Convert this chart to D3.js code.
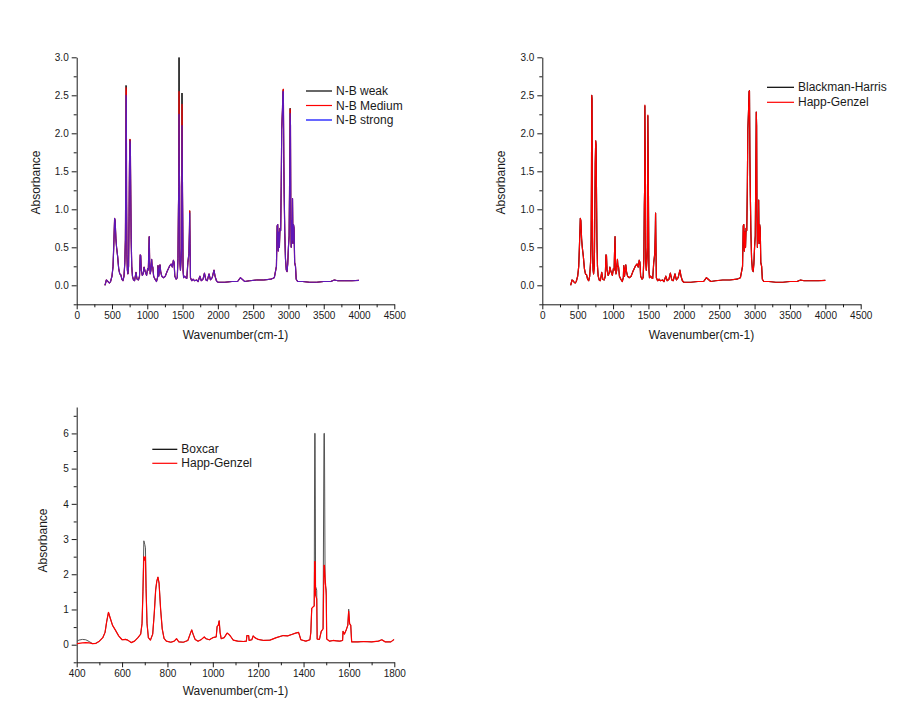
<!DOCTYPE html>
<html><head><meta charset="utf-8">
<script src="https://cdn.jsdelivr.net/npm/d3@7"></script>
<style>
body{margin:0;background:#fff}
svg{display:block}
text{font-family:"Liberation Sans",Arial,sans-serif;fill:#1a1a1a}
</style>
</head><body>
<svg id="c" width="910" height="719"></svg>
<script>
// ---------- DATA ----------
const wn1 = [400,410,420,435,450,465,480,500,515,528,
537,545,555,565,580,595,610,625,640,655,
670,682,690,695,699,703,707,712,718,725,
735,742,748,755,760,766,772,780,790,805,
820,840,855,875,890,900,907,915,930,945,
955,965,975,990,1005,1015,1020,1028,1034,1042,
1052,1062,1068,1078,1090,1110,1130,1145,1152,1162,
1172,1180,1190,1205,1230,1255,1280,1300,1320,1340,
1355,1370,1380,1390,1410,1425,1435,1442,1447,1450,
1453,1458,1462,1470,1480,1487,1492,1497,1502,1507,
1515,1530,1545,1560,1575,1590,1597,1601,1606,1612,
1630,1650,1670,1700,1720,1745,1765,1790,1810,1830,
1850,1875,1895,1920,1945,1960,1980,2000,2100,2200,
2280,2320,2345,2380,2450,2550,2650,2750,2800,2830,
2840,2848,2856,2866,2872,2880,2890,2898,2905,2915,
2922,2928,2934,2940,2948,2958,2970,2980,2990,3000,
3010,3018,3024,3029,3034,3040,3047,3053,3058,3064,
3072,3080,3088,3100,3110,3130,3200,3300,3400,3500,
3600,3650,3700,3800,3900,4000];

const nbStrong = [0.00,0.03,0.07,0.06,0.04,0.03,0.05,0.12,0.25,0.60,
0.88,0.85,0.62,0.50,0.38,0.22,0.15,0.14,0.08,0.06,
0.12,0.30,0.60,1.40,2.50,2.45,1.10,0.40,0.20,0.15,
0.25,0.90,1.60,1.90,1.85,1.20,0.60,0.25,0.12,0.07,
0.06,0.17,0.08,0.07,0.12,0.40,0.39,0.20,0.13,0.16,
0.24,0.20,0.17,0.13,0.22,0.20,0.40,0.64,0.30,0.15,
0.20,0.34,0.26,0.24,0.12,0.08,0.05,0.10,0.26,0.12,
0.20,0.27,0.18,0.12,0.10,0.12,0.18,0.22,0.26,0.28,
0.24,0.33,0.30,0.12,0.08,0.10,0.35,1.05,1.30,2.25,
1.60,1.30,0.30,0.20,0.35,0.50,2.10,1.50,0.90,0.20,
0.10,0.12,0.10,0.09,0.30,0.42,0.70,0.95,0.55,0.10,
0.06,0.08,0.06,0.07,0.05,0.12,0.06,0.08,0.16,0.07,
0.06,0.15,0.07,0.10,0.20,0.12,0.06,0.04,0.04,0.05,
0.05,0.10,0.08,0.05,0.06,0.07,0.07,0.08,0.10,0.25,
0.78,0.80,0.45,0.70,0.50,0.75,0.72,1.30,2.05,2.30,
2.55,2.55,1.70,1.20,0.70,0.35,0.20,0.18,0.28,0.50,
0.65,1.50,2.26,2.10,0.90,0.50,0.85,0.60,1.14,0.55,
0.80,0.75,0.30,0.25,0.08,0.05,0.05,0.04,0.04,0.05,
0.05,0.07,0.06,0.06,0.06,0.065];

const nbMedium = [0.00,0.03,0.07,0.06,0.04,0.03,0.05,0.12,0.25,0.60,
0.88,0.85,0.62,0.50,0.38,0.22,0.15,0.14,0.08,0.06,
0.12,0.30,0.60,1.40,2.60,2.55,1.10,0.40,0.20,0.15,
0.25,0.90,1.60,1.92,1.85,1.20,0.60,0.25,0.12,0.07,
0.06,0.17,0.08,0.07,0.12,0.40,0.39,0.20,0.13,0.16,
0.24,0.20,0.17,0.13,0.22,0.20,0.40,0.64,0.30,0.15,
0.20,0.34,0.26,0.24,0.12,0.08,0.05,0.10,0.26,0.12,
0.20,0.27,0.18,0.12,0.10,0.12,0.18,0.22,0.26,0.28,
0.24,0.33,0.30,0.12,0.08,0.10,0.35,1.05,1.30,2.55,
1.60,1.30,0.30,0.20,0.35,0.50,2.38,1.50,0.90,0.20,
0.10,0.12,0.10,0.09,0.30,0.42,0.70,0.98,0.55,0.10,
0.06,0.08,0.06,0.07,0.05,0.12,0.06,0.08,0.16,0.07,
0.06,0.15,0.07,0.10,0.20,0.12,0.06,0.04,0.04,0.05,
0.05,0.10,0.08,0.05,0.06,0.07,0.07,0.08,0.10,0.25,
0.78,0.80,0.45,0.70,0.50,0.75,0.72,1.30,2.05,2.30,
2.55,2.58,1.70,1.20,0.70,0.35,0.20,0.18,0.28,0.50,
0.65,1.50,2.32,2.10,0.90,0.50,0.85,0.60,1.14,0.55,
0.80,0.75,0.30,0.25,0.08,0.05,0.05,0.04,0.04,0.05,
0.05,0.07,0.06,0.06,0.06,0.065];

const nbWeak = [0.00,0.03,0.07,0.06,0.04,0.03,0.05,0.12,0.25,0.60,
0.88,0.85,0.62,0.50,0.38,0.22,0.15,0.14,0.08,0.06,
0.12,0.30,0.60,1.40,2.63,2.58,1.10,0.40,0.20,0.15,
0.25,0.90,1.60,1.92,1.85,1.20,0.60,0.25,0.12,0.07,
0.06,0.17,0.08,0.07,0.12,0.40,0.39,0.20,0.13,0.16,
0.24,0.20,0.17,0.13,0.22,0.20,0.40,0.64,0.30,0.15,
0.20,0.34,0.26,0.24,0.12,0.08,0.05,0.10,0.26,0.12,
0.20,0.27,0.18,0.12,0.10,0.12,0.18,0.22,0.26,0.28,
0.24,0.33,0.30,0.12,0.08,0.10,0.35,1.05,1.30,3.00,
1.60,1.30,0.30,0.20,0.35,0.50,2.53,1.50,0.90,0.20,
0.10,0.12,0.10,0.09,0.30,0.42,0.70,0.98,0.55,0.10,
0.06,0.08,0.06,0.07,0.05,0.12,0.06,0.08,0.16,0.07,
0.06,0.15,0.07,0.10,0.20,0.12,0.06,0.04,0.04,0.05,
0.05,0.10,0.08,0.05,0.06,0.07,0.07,0.08,0.10,0.25,
0.78,0.80,0.45,0.70,0.50,0.75,0.72,1.30,2.05,2.30,
2.55,2.58,1.70,1.20,0.70,0.35,0.20,0.18,0.28,0.50,
0.65,1.50,2.33,2.10,0.90,0.50,0.85,0.60,1.14,0.55,
0.80,0.75,0.30,0.25,0.08,0.05,0.05,0.04,0.04,0.05,
0.05,0.07,0.06,0.06,0.06,0.065];

const blackmanHarris = [0.00,0.03,0.07,0.06,0.04,0.03,0.05,0.12,0.25,0.60,
0.88,0.85,0.62,0.50,0.38,0.22,0.15,0.14,0.08,0.06,
0.12,0.30,0.60,1.40,2.50,2.45,1.10,0.40,0.20,0.15,
0.25,0.90,1.60,1.90,1.85,1.20,0.60,0.25,0.12,0.07,
0.06,0.17,0.08,0.07,0.12,0.40,0.39,0.20,0.13,0.16,
0.24,0.20,0.17,0.13,0.22,0.20,0.40,0.64,0.30,0.15,
0.20,0.34,0.26,0.24,0.12,0.08,0.05,0.10,0.26,0.12,
0.20,0.27,0.18,0.12,0.10,0.12,0.18,0.22,0.26,0.28,
0.24,0.33,0.30,0.12,0.08,0.10,0.35,1.05,1.30,2.36,
1.90,1.30,0.30,0.20,0.35,0.50,2.23,1.65,0.90,0.20,
0.10,0.12,0.10,0.09,0.30,0.42,0.70,0.95,0.55,0.10,
0.06,0.08,0.06,0.07,0.05,0.12,0.06,0.08,0.16,0.07,
0.06,0.15,0.07,0.10,0.20,0.12,0.06,0.04,0.04,0.05,
0.05,0.10,0.08,0.05,0.06,0.07,0.07,0.08,0.10,0.25,
0.78,0.80,0.45,0.70,0.50,0.75,0.72,1.30,2.05,2.30,
2.55,2.56,1.70,1.20,0.70,0.35,0.20,0.18,0.28,0.50,
0.65,1.50,2.28,2.10,0.90,0.50,0.85,0.60,1.12,0.55,
0.80,0.75,0.30,0.25,0.08,0.05,0.05,0.04,0.04,0.05,
0.05,0.07,0.06,0.06,0.06,0.065];

const happGenzel = [0.00,0.03,0.07,0.06,0.04,0.03,0.05,0.12,0.25,0.60,
0.88,0.85,0.62,0.50,0.38,0.22,0.15,0.14,0.08,0.06,
0.12,0.30,0.60,1.40,2.50,2.45,1.10,0.40,0.20,0.15,
0.25,0.90,1.60,1.90,1.85,1.20,0.60,0.25,0.12,0.07,
0.06,0.17,0.08,0.07,0.12,0.40,0.39,0.20,0.13,0.16,
0.24,0.20,0.17,0.13,0.22,0.20,0.40,0.64,0.30,0.15,
0.20,0.34,0.26,0.24,0.12,0.08,0.05,0.10,0.26,0.12,
0.20,0.27,0.18,0.12,0.10,0.12,0.18,0.22,0.26,0.28,
0.24,0.33,0.30,0.12,0.08,0.10,0.35,1.05,1.30,2.37,
1.90,1.30,0.30,0.20,0.35,0.50,2.24,1.65,0.90,0.20,
0.10,0.12,0.10,0.09,0.30,0.42,0.70,0.95,0.55,0.10,
0.06,0.08,0.06,0.07,0.05,0.12,0.06,0.08,0.16,0.07,
0.06,0.15,0.07,0.10,0.20,0.12,0.06,0.04,0.04,0.05,
0.05,0.10,0.08,0.05,0.06,0.07,0.07,0.08,0.10,0.25,
0.78,0.80,0.45,0.70,0.50,0.75,0.72,1.30,2.05,2.30,
2.55,2.56,1.70,1.20,0.70,0.35,0.20,0.18,0.28,0.50,
0.65,1.50,2.28,2.10,0.90,0.50,0.85,0.60,1.12,0.55,
0.80,0.75,0.30,0.25,0.08,0.05,0.05,0.04,0.04,0.05,
0.05,0.07,0.06,0.06,0.06,0.065];

const wn3 = [400,410,425,440,455,470,485,500,515,525,
532,540,548,558,570,585,600,615,625,640,
655,670,682,688,692,696,700,703,706,710,
716,725,735,742,748,753,758,763,770,777,
785,795,815,830,840,850,870,890,900,907,
913,922,935,950,962,970,985,1000,1015,1019,
1024,1028,1032,1037,1050,1063,1070,1078,1090,1110,
1135,1148,1150,1158,1160,1172,1178,1185,1200,1225,
1252,1280,1310,1330,1348,1365,1378,1383,1388,1410,
1428,1432,1436,1443,1447,1449,1451,1453,1458,1460,
1470,1478,1486,1490,1492,1495,1500,1502,1515,1530,
1545,1560,1572,1574,1580,1588,1595,1599,1603,1608,
1612,1640,1665,1700,1730,1745,1760,1785,1795,1800];

const boxcar = [0.10,0.13,0.15,0.14,0.09,0.03,0.04,0.10,0.20,0.35,
0.65,0.92,0.75,0.55,0.42,0.25,0.14,0.15,0.13,0.06,
0.10,0.20,0.30,0.60,1.50,2.95,2.85,2.75,1.60,0.60,
0.20,0.13,0.30,0.90,1.55,1.80,1.92,1.75,1.00,0.45,
0.18,0.10,0.07,0.10,0.17,0.08,0.07,0.12,0.30,0.42,
0.30,0.15,0.10,0.15,0.22,0.17,0.14,0.20,0.22,0.52,
0.55,0.68,0.35,0.17,0.20,0.33,0.30,0.24,0.13,0.10,
0.09,0.10,0.26,0.26,0.12,0.14,0.25,0.20,0.15,0.12,
0.13,0.20,0.26,0.25,0.29,0.33,0.35,0.25,0.14,0.10,
0.14,0.35,1.03,1.08,1.10,6.00,6.00,1.65,1.55,0.16,
0.15,0.38,0.45,6.00,6.00,1.75,1.55,0.16,0.10,0.12,
0.11,0.10,0.12,0.38,0.30,0.42,0.55,1.01,0.60,0.55,
0.08,0.08,0.09,0.08,0.10,0.14,0.08,0.08,0.13,0.15];

const happGenzel3 = [0.03,0.04,0.05,0.06,0.05,0.03,0.04,0.10,0.20,0.35,
0.65,0.92,0.75,0.55,0.42,0.25,0.14,0.15,0.13,0.06,
0.10,0.20,0.30,0.60,1.50,2.50,2.40,2.50,1.50,0.60,
0.20,0.13,0.30,0.90,1.55,1.80,1.92,1.75,1.00,0.45,
0.18,0.10,0.07,0.10,0.17,0.08,0.07,0.12,0.30,0.42,
0.30,0.15,0.10,0.15,0.22,0.17,0.14,0.20,0.22,0.52,
0.55,0.68,0.35,0.17,0.20,0.33,0.30,0.24,0.13,0.10,
0.09,0.10,0.26,0.26,0.12,0.14,0.25,0.20,0.15,0.12,
0.13,0.20,0.26,0.25,0.29,0.33,0.35,0.25,0.14,0.10,
0.14,0.35,1.03,1.08,1.10,2.36,2.36,1.40,1.30,0.16,
0.15,0.38,0.45,2.25,2.25,1.90,1.40,0.16,0.10,0.12,
0.11,0.10,0.12,0.38,0.30,0.42,0.55,0.95,0.60,0.55,
0.08,0.08,0.09,0.08,0.10,0.14,0.08,0.08,0.13,0.15];

const xTicksFull = [0,500,1000,1500,2000,2500,3000,3500,4000,4500];
const yTicksFull = [0.0,0.5,1.0,1.5,2.0,2.5,3.0];
const xTicksZoom = [400,600,800,1000,1200,1400,1600,1800];
const yTicksZoom = [0,1,2,3,4,5,6];

// ---------- DRAW ----------
const svg = d3.select("#c");
let clipId = 0;

function panel(o){
  const x = d3.scaleLinear().domain(o.xDomain).range([o.left, o.right]);
  const y = d3.scaleLinear().domain(o.yDomain).range([o.bottom, o.top]);
  const g = svg.append("g");

  const styleAxis = s => {
    s.selectAll("path,line").attr("stroke","#1a1a1a").attr("stroke-width",1);
    s.selectAll("text").attr("font-family","'Liberation Sans',Arial,sans-serif").attr("font-size",10).attr("fill","#1a1a1a");
  };

  g.append("g").attr("transform",`translate(0,${o.bottom})`)
    .call(d3.axisBottom(x).tickValues(o.xMinor).tickSize(3).tickSizeOuter(0).tickFormat(""))
    .call(s=>s.select(".domain").remove()).call(styleAxis);
  g.append("g").attr("transform",`translate(${o.left},0)`)
    .call(d3.axisLeft(y).tickValues(o.yMinor).tickSize(3).tickSizeOuter(0).tickFormat(""))
    .call(s=>s.select(".domain").remove()).call(styleAxis);
  g.append("g").attr("transform",`translate(0,${o.bottom})`)
    .call(d3.axisBottom(x).tickValues(o.xTicks).tickSize(5).tickSizeOuter(0).tickPadding(3).tickFormat(o.xFmt))
    .call(styleAxis);
  g.append("g").attr("transform",`translate(${o.left},0)`)
    .call(d3.axisLeft(y).tickValues(o.yTicks).tickSize(5).tickSizeOuter(0).tickPadding(3).tickFormat(o.yFmt))
    .call(styleAxis);

  const id = "clip" + (clipId++);
  svg.append("clipPath").attr("id", id).append("rect")
    .attr("x", o.left).attr("y", o.top).attr("width", o.right - o.left).attr("height", o.bottom - o.top);

  const lines = g.append("g").attr("clip-path", `url(#${id})`);
  o.series.forEach(s => {
    const pts = o.wn.map((w,i)=>[w, s.values[i]]);
    lines.append("path").datum(pts)
      .attr("fill","none").attr("stroke", s.color).attr("stroke-width", s.width || 1.2)
      .attr("stroke-opacity", s.opacity || 1).attr("stroke-linejoin","round")
      .attr("d", d3.line().x(d=>x(d[0])).y(d=>y(d[1])));
  });

  g.append("text").attr("x", o.xTitle[0]).attr("y", o.xTitle[1]).attr("text-anchor","middle")
    .attr("font-size", 12).text("Wavenumber(cm-1)");
  g.append("text").attr("transform", `translate(${o.yTitle[0]},${o.yTitle[1]}) rotate(-90)`)
    .attr("text-anchor","middle").attr("font-size", 12).text("Absorbance");

  o.legend.forEach((l,i)=>{
    const ly = o.legendPos[1] + i * o.legendStep;
    g.append("line").attr("x1", o.legendPos[0]).attr("x2", o.legendPos[0] + o.legendLen)
      .attr("y1", ly).attr("y2", ly).attr("stroke", l.color).attr("stroke-width", 1.2);
    g.append("text").attr("x", o.legendPos[0] + o.legendLen + 4).attr("y", ly + 4)
      .attr("font-size", 12).text(l.name);
  });
}

const f1 = d3.format(".1f");
const minorFullX = d3.range(250, 4500, 500);
const minorFullY = [-0.25,0.25,0.75,1.25,1.75,2.25,2.75];

panel({
  left:76.7, right:394.3, top:57.3, bottom:304.3,
  xDomain:[0,4500], yDomain:[-0.25,3.0],
  xTicks:xTicksFull, xMinor:minorFullX, yTicks:yTicksFull, yMinor:minorFullY,
  xFmt:d3.format("d"), yFmt:f1,
  wn:wn1,
  series:[
    {values:nbWeak, color:"#000000", width:1},
    {values:nbMedium, color:"#ff0000"},
    {values:nbStrong, color:"#2020ff", opacity:0.72}
  ],
  xTitle:[235.5, 338.5], yTitle:[39.5, 182.5],
  legend:[{name:"N-B weak",color:"#000"},{name:"N-B Medium",color:"#ff0000"},{name:"N-B strong",color:"#0000ff"}],
  legendPos:[306, 91], legendStep:14.5, legendLen:26
});

panel({
  left:542.3, right:860.7, top:57.3, bottom:304.3,
  xDomain:[0,4500], yDomain:[-0.25,3.0],
  xTicks:xTicksFull, xMinor:minorFullX, yTicks:yTicksFull, yMinor:minorFullY,
  xFmt:d3.format("d"), yFmt:f1,
  wn:wn1,
  series:[
    {values:blackmanHarris, color:"#000000"},
    {values:happGenzel, color:"#ff0000"}
  ],
  xTitle:[701.5, 338.5], yTitle:[505, 182.5],
  legend:[{name:"Blackman-Harris",color:"#000"},{name:"Happ-Genzel",color:"#ff0000"}],
  legendPos:[767, 87.3], legendStep:15, legendLen:27
});

panel({
  left:76.7, right:394.3, top:407, bottom:662.3,
  xDomain:[400,1800], yDomain:[-0.5,6.75],
  xTicks:xTicksZoom, xMinor:[500,700,900,1100,1300,1500,1700], yTicks:yTicksZoom, yMinor:[-0.5,0.5,1.5,2.5,3.5,4.5,5.5,6.5],
  xFmt:d3.format("d"), yFmt:d3.format("d"),
  wn:wn3,
  series:[
    {values:boxcar, color:"#555555", width:1},
    {values:happGenzel3, color:"#ff0000"}
  ],
  xTitle:[235.5, 695], yTitle:[46.5, 540.5],
  legend:[{name:"Boxcar",color:"#000"},{name:"Happ-Genzel",color:"#ff0000"}],
  legendPos:[152.3, 449.3], legendStep:14, legendLen:25
});
</script>
</body></html>
